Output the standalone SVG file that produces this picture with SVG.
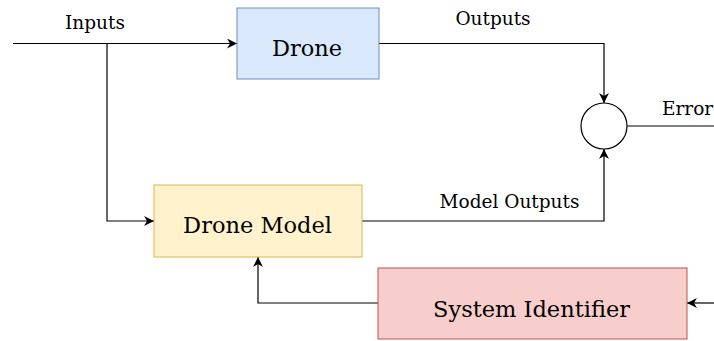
<svg xmlns="http://www.w3.org/2000/svg" width="714" height="341" viewBox="0 0 714 341">
<defs>
<marker id="arr" viewBox="0 0 10 10" refX="10" refY="5" markerWidth="10" markerHeight="10" markerUnits="userSpaceOnUse" orient="auto">
<path d="M0,0 L10,5 L0,10 L3,5 Z" fill="#000"/>
</marker>
</defs>
<style>
.lbl{font-family:"DejaVu Serif","Liberation Serif",serif;font-size:18.5px;fill:#000}
.big{font-family:"DejaVu Serif","Liberation Serif",serif;font-size:22.5px;fill:#000}
.c{fill:none;stroke:#000;stroke-width:1.2}
</style>
<rect width="714" height="341" fill="#fff"/>
<g id="connectors">
<path class="c" d="M13,43.5 H237" marker-end="url(#arr)"/>
<path class="c" d="M107,43.5 V221 H154" marker-end="url(#arr)"/>
<path class="c" d="M379,43.5 H604 V103" marker-end="url(#arr)"/>
<path class="c" d="M362,221 H604 V149" marker-end="url(#arr)"/>
<path class="c" d="M627,126 H714"/>
<path class="c" d="M714,303 H687" marker-end="url(#arr)"/>
<path class="c" d="M378,303 H258 V257" marker-end="url(#arr)"/>
<text class="lbl" x="95" y="29" text-anchor="middle">Inputs</text>
<text class="lbl" x="493" y="25" text-anchor="middle">Outputs</text>
<text class="lbl" x="662" y="115">Error</text>
<text class="lbl" x="509.5" y="208" text-anchor="middle">Model Outputs</text>
</g>
<g id="drone">
<rect x="237" y="8" width="142" height="71" fill="#dae8fc" stroke="#6c8ebf"/>
<text class="big" x="307" y="56" text-anchor="middle">Drone</text>
</g>
<g id="drone-model">
<rect x="154" y="185" width="208" height="72" fill="#fff2cc" stroke="#d6b656"/>
<text class="big" x="257.5" y="233" text-anchor="middle">Drone Model</text>
</g>
<g id="sum">
<circle cx="604" cy="126" r="23" fill="#fff" stroke="#000" stroke-width="1.2"/>
</g>
<g id="system-identifier">
<rect x="378" y="268" width="309" height="71" fill="#f8cecc" stroke="#b85450"/>
<text class="big" x="531.5" y="317" text-anchor="middle">System Identifier</text>
</g>
</svg>
